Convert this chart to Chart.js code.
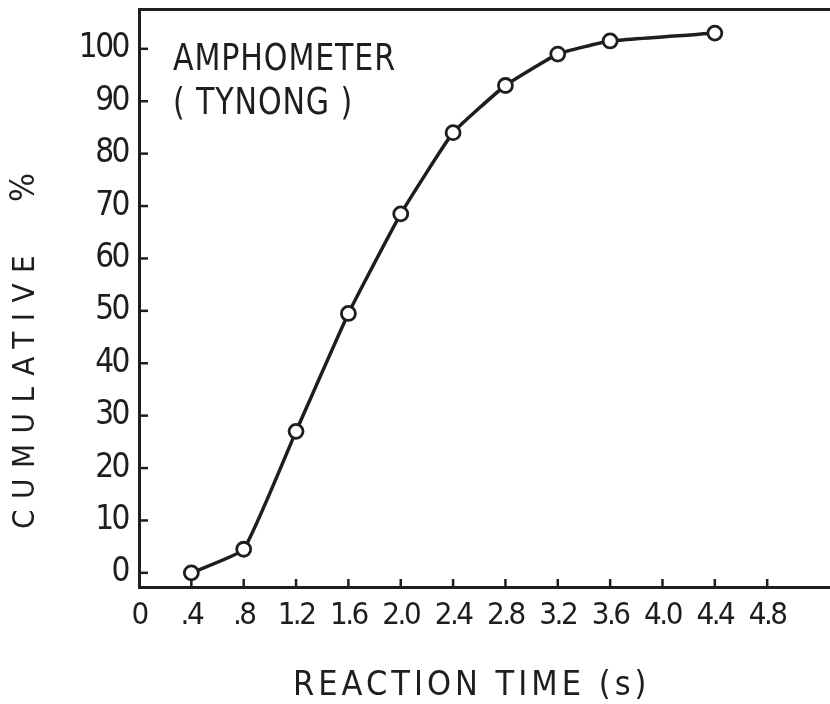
<!DOCTYPE html>
<html>
<head>
<meta charset="utf-8">
<title>Amphometer (Tynong) - cumulative reaction time</title>
<script src="https://cdn.jsdelivr.net/npm/chart.js@4.4.1/dist/chart.umd.min.js"></script>
<style>
  html, body { margin: 0; padding: 0; background: #fff; }
  #wrap { position: relative; width: 830px; height: 704px; overflow: hidden; }
  #chart { position: absolute; left: 0; top: 0; }
  .lbl {
    position: absolute;
    font-family: "DejaVu Sans Condensed", "DejaVu Sans", sans-serif;
    color: #1e1e1e;
    white-space: pre;
  }
  #note { left: 173px; top: 35px; font-size: 38px; line-height: 44px; letter-spacing: 1px; transform: scaleX(0.88); transform-origin: left top; }
  #yTitle { left: 7px; top: 529px; font-size: 31px; line-height: 31px; letter-spacing: 10.5px; transform: rotate(-90deg); transform-origin: left top; }
  #yTitle span { margin-left: 4px; font-size: 34px; }
  #xTitle { left: 293px; top: 666px; font-size: 34px; line-height: 34px; letter-spacing: 4px; }
</style>
</head>
<body>
<div id="wrap">
  <canvas id="chart" width="830" height="704"></canvas>
  <div class="lbl" id="note">AMPHOMETER
( TYNONG )</div>
  <div class="lbl" id="yTitle">CUMULATIVE  <span>%</span></div>
  <div class="lbl" id="xTitle">REACTION TIME (s)</div>
</div>
<script>
// reaction time (s) and cumulative %
const reactionTimes = [0.4, 0.8, 1.2, 1.6, 2.0, 2.4, 2.8, 3.2, 3.6, 4.4];
const cumulativePct = [0, 4.5, 27, 49.5, 68.5, 84, 93, 99, 101.5, 103];

const xTickValues = [0, 0.4, 0.8, 1.2, 1.6, 2.0, 2.4, 2.8, 3.2, 3.6, 4.0, 4.4, 4.8];
const xTickLabels = ["0", ".4", ".8", "1.2", "1.6", "2.0", "2.4", "2.8", "3.2", "3.6", "4.0", "4.4", "4.8"];
const yTickValues = [0, 10, 20, 30, 40, 50, 60, 70, 80, 90, 100];

const INK = "#1e1e1e";
const TICK_FONT = "'DejaVu Sans Condensed', 'DejaVu Sans', sans-serif";

// the lettering on the original is narrow, so tighten canvas text a bit
const tightText = {
  id: "tightText",
  beforeDraw(chart) {
    chart.ctx.letterSpacing = "-2.5px";
  },
  afterDraw(chart) {
    chart.ctx.letterSpacing = "0px";
  },
};

// small tick marks pointing into the plot, like the hand-drawn axes
const inwardTicks = {
  id: "inwardTicks",
  beforeDatasetsDraw(chart) {
    const { ctx, chartArea, scales } = chart;
    ctx.save();
    ctx.strokeStyle = INK;
    ctx.lineWidth = 2.5;
    scales.x.ticks.forEach((t) => {
      if (t.value === 0) return;
      const px = scales.x.getPixelForValue(t.value);
      ctx.beginPath();
      ctx.moveTo(px, chartArea.bottom);
      ctx.lineTo(px, chartArea.bottom - 8);
      ctx.stroke();
    });
    scales.y.ticks.forEach((t) => {
      const py = scales.y.getPixelForValue(t.value);
      ctx.beginPath();
      ctx.moveTo(chartArea.left, py);
      ctx.lineTo(chartArea.left + 9, py);
      ctx.stroke();
    });
    ctx.restore();
  },
};

function noPadding(scale) {
  scale.paddingTop = 0;
  scale.paddingBottom = 0;
  scale.paddingLeft = 0;
  scale.paddingRight = 0;
}

new Chart(document.getElementById("chart"), {
  type: "line",
  data: {
    datasets: [
      {
        data: reactionTimes.map((x, i) => ({ x, y: cumulativePct[i] })),
        borderColor: INK,
        borderWidth: 3.5,
        tension: 0.12,
        pointRadius: 7,
        pointBorderWidth: 2.8,
        pointBackgroundColor: "#fff",
        pointBorderColor: INK,
      },
    ],
  },
  options: {
    responsive: false,
    animation: false,
    devicePixelRatio: 1,
    layout: { padding: 0, autoPadding: false },
    plugins: { legend: { display: false }, tooltip: { enabled: false } },
    scales: {
      x: {
        type: "linear",
        position: "bottom",
        min: 0,
        max: 5.28,
        afterBuildTicks: (scale) => {
          scale.ticks = xTickValues.map((value) => ({ value }));
        },
        afterFit: (scale) => {
          scale.height = 117;
          noPadding(scale);
        },
        ticks: {
          callback: (value, index) => xTickLabels[index],
          color: INK,
          padding: 13,
          maxRotation: 0,
          autoSkip: false,
          font: { family: TICK_FONT, size: 31, lineHeight: 1 },
        },
        grid: { display: true, drawOnChartArea: false, drawTicks: false },
        border: { display: true, color: INK, width: 3 },
      },
      xTop: {
        type: "linear",
        position: "top",
        min: 0,
        max: 5.28,
        afterFit: (scale) => {
          scale.height = 9;
          noPadding(scale);
        },
        ticks: { display: false },
        grid: { display: true, drawOnChartArea: false, drawTicks: false },
        border: { display: true, color: INK, width: 3 },
      },
      y: {
        type: "linear",
        position: "left",
        min: -2.7,
        max: 107.6,
        afterBuildTicks: (scale) => {
          scale.ticks = yTickValues.map((value) => ({ value }));
        },
        afterFit: (scale) => {
          scale.width = 139;
          noPadding(scale);
        },
        ticks: {
          color: INK,
          padding: 11,
          font: { family: TICK_FONT, size: 33, lineHeight: 1 },
        },
        grid: { display: true, drawOnChartArea: false, drawTicks: false },
        border: { display: true, color: INK, width: 3 },
      },
    },
  },
  plugins: [tightText, inwardTicks],
});
</script>
</body>
</html>
